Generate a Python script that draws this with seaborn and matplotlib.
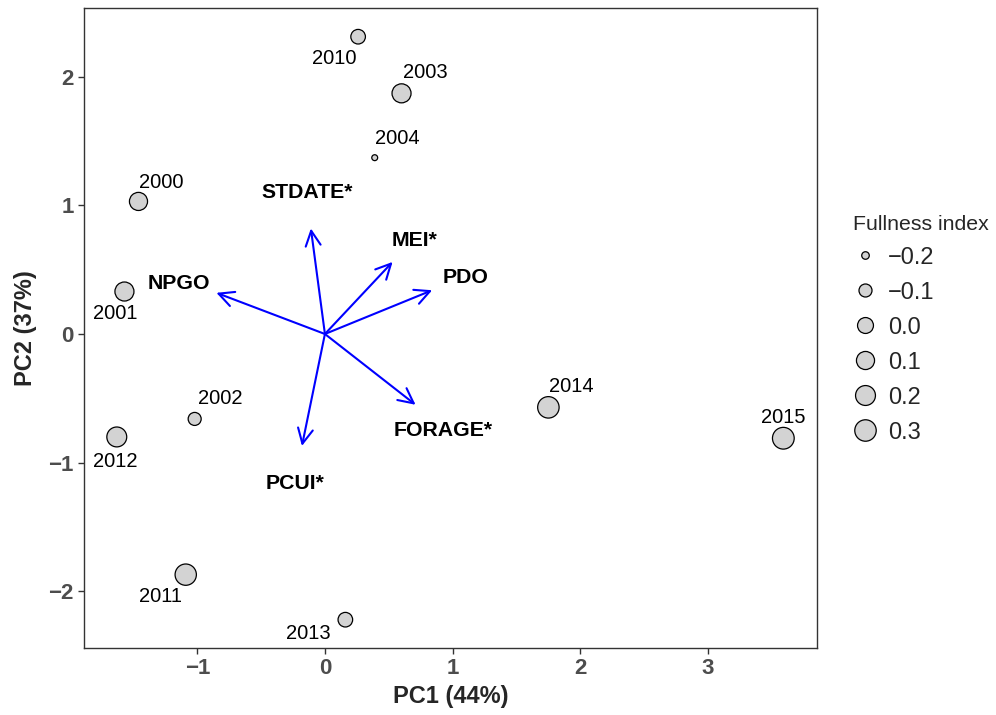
import numpy as np
import pandas as pd
import matplotlib
matplotlib.use("Agg")
import matplotlib.pyplot as plt
from matplotlib.colors import PowerNorm
from matplotlib.lines import Line2D
import seaborn as sns

# scores of the years on the first two PCs
years = ["2000", "2001", "2002", "2003", "2004", "2010",
         "2011", "2012", "2013", "2014", "2015"]
pc1 = [-1.46, -1.57, -1.02, 0.60, 0.39, 0.26, -1.09, -1.63, 0.16, 1.75, 3.59]
pc2 = [1.03, 0.33, -0.66, 1.87, 1.37, 2.31, -1.87, -0.80, -2.22, -0.57, -0.81]
fullness = [0.10, 0.15, -0.10, 0.15, -0.21, -0.05, 0.29, 0.20, -0.05, 0.30, 0.32]
year_lab_x = [-1.28, -1.64, -0.82, 0.79, 0.57, 0.07, -1.29, -1.64, -0.13, 1.93, 3.59]
year_lab_y = [1.18, 0.16, -0.50, 2.03, 1.52, 2.14, -2.04, -0.99, -2.33, -0.41, -0.65]

# loadings of the variables
variables = ["STDATE*", "MEI*", "PDO", "NPGO", "FORAGE*", "PCUI*"]
load1 = [-0.11, 0.53, 0.84, -0.85, 0.71, -0.18]
load2 = [0.82, 0.56, 0.34, 0.32, -0.55, -0.87]
var_lab_x = [-0.14, 0.70, 1.10, -1.14, 0.93, -0.23]
var_lab_y = [1.10, 0.73, 0.44, 0.39, -0.75, -1.16]

legend_levels = [-0.2, -0.1, 0.0, 0.1, 0.2, 0.3]

df = pd.DataFrame({"PC1": pc1, "PC2": pc2, "fullness": fullness})

sns.set_style("white")
plt.rcParams['font.family'] = ['Liberation Sans', 'DejaVu Sans']

fig = plt.figure(figsize=(9.96, 7.15), dpi=100)
ax = fig.add_axes([0.0843, 0.0937, 0.7359, 0.8951])

size_lo, size_hi = 18, 245
norm = PowerNorm(0.75, vmin=-0.21, vmax=0.32, clip=True)

sns.scatterplot(data=df, x="PC1", y="PC2", size="fullness",
                sizes=(size_lo, size_hi), size_norm=norm,
                color="#d3d3d3", edgecolor="black", linewidth=0.9,
                legend=False, ax=ax, zorder=3)

for i, yr in enumerate(years):
    ax.text(year_lab_x[i], year_lab_y[i], yr, fontsize=14.5,
            ha="center", va="center", color="black")

# variable arrows
for i, v in enumerate(variables):
    ax.annotate("", xy=(load1[i], load2[i]), xytext=(0, 0),
                arrowprops=dict(arrowstyle="->,head_length=0.6,head_width=0.3",
                                color="blue", lw=1.5, shrinkA=0, shrinkB=0,
                                mutation_scale=18))
    ax.text(var_lab_x[i], var_lab_y[i], v, fontsize=15.3, fontweight="bold",
            ha="center", va="center", color="black")

ax.set_xlim(-1.887, 3.853)
ax.set_ylim(-2.44, 2.533)
ax.set_xticks([-1, 0, 1, 2, 3])
ax.set_yticks([-2, -1, 0, 1, 2])
ax.tick_params(axis="both", which="major", length=4, width=1, color="#333333",
               labelsize=16, labelcolor="#4d4d4d", direction="out", bottom=True, left=True)
for lab in ax.get_xticklabels() + ax.get_yticklabels():
    lab.set_fontweight("bold")
for s in ax.spines.values():
    s.set_color("#333333")
    s.set_linewidth(1.0)

ax.set_xlabel("PC1 (44%)", fontsize=17, fontweight="bold", labelpad=4)
ax.set_ylabel("PC2 (37%)", fontsize=17, fontweight="bold", labelpad=8)

# size legend
handles = []
for lv in legend_levels:
    s = size_lo + float(norm(lv)) * (size_hi - size_lo)
    handles.append(Line2D([], [], linestyle="none", marker="o",
                          markersize=np.sqrt(s), markerfacecolor="#d3d3d3",
                          markeredgecolor="black", markeredgewidth=0.9))
labels = [f"{lv:.1f}".replace("-", "\u2212") for lv in legend_levels]
leg = fig.legend(handles, labels, title="Fullness index",
                 loc="upper left", bbox_to_anchor=(0.847, 0.713),
                 frameon=False, fontsize=17, title_fontsize=15.3,
                 labelspacing=0.55, handlelength=1.0, handletextpad=0.47,
                 borderaxespad=0)
leg._legend_box.align = "left"

fig.savefig("out.png", dpi=100)
